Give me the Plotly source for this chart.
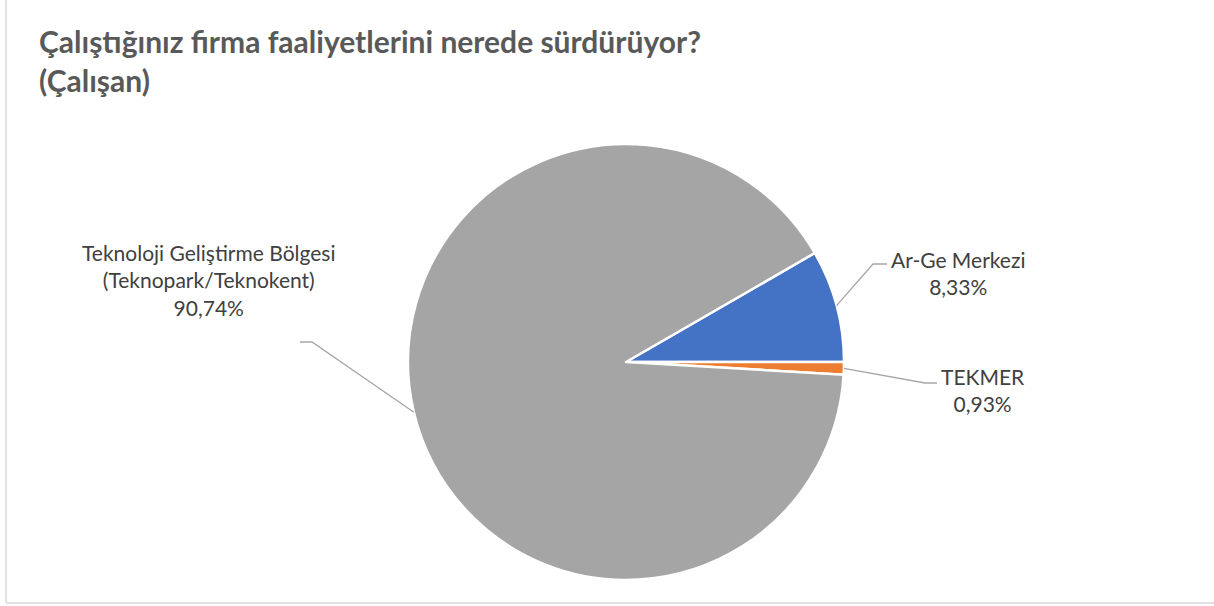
import math
import plotly.graph_objects as go

W, H = 1214, 606

# Data
categories = ["Ar-Ge Merkezi", "TEKMER", "Teknoloji Geliştirme Bölgesi<br>(Teknopark/Teknokent)"]
values = [8.33, 0.93, 90.74]
value_labels = ["8,33%", "0,93%", "90,74%"]
colors = ["#4472C4", "#ED7D31", "#A5A5A5"]
title_lines = ["Çalıştığınız firma faaliyetlerini nerede sürdürüyor?", "(Çalışan)"]

# Layout geometry (pixels)
cx, cy, r = 626, 362, 218
rotation = 60

def px(x):
    return x / W

def py(y):
    return 1 - y / H

fig = go.Figure()
fig.add_trace(go.Pie(
    labels=categories,
    values=values,
    marker=dict(colors=colors, line=dict(color="white", width=2.5)),
    sort=False,
    direction="clockwise",
    rotation=rotation,
    textinfo="none",
    showlegend=False,
    domain=dict(x=[px(cx - r), px(cx + r)], y=[py(cy + r), py(cy - r)]),
))

# Mid-angle points of each slice on the rim (computed from values)
total = sum(values)
mids = []
acc = 0.0
for v in values:
    a = rotation + (acc + v / 2) / total * 360
    acc += v
    rad = math.radians(a)
    mids.append((cx + r * math.sin(rad), cy - r * math.cos(rad)))

# Leader line elbows and label positions (pixels)
elbows = [
    [(873, 264), (887, 264)],
    [(925, 383), (937, 383)],
    [(312, 342), (300, 342)],
]
label_pos = [(958, 273), (983, 390), (209, 280)]

line_color = "#A6A6A6"
shapes = []
for (sx, sy), pts in zip(mids, elbows):
    path_pts = [(sx, sy)] + pts
    d = "M " + " L ".join(f"{px(x):.5f},{py(y):.5f}" for x, y in path_pts)
    shapes.append(dict(type="path", xref="paper", yref="paper", path=d,
                       line=dict(color=line_color, width=1.3)))

# chart area border (left and bottom visible)
shapes.append(dict(type="line", xref="paper", yref="paper",
                   x0=px(6), x1=px(6), y0=py(0), y1=py(603),
                   line=dict(color="#D9D9D9", width=1.5)))
shapes.append(dict(type="line", xref="paper", yref="paper",
                   x0=px(6), x1=1, y0=py(603), y1=py(603),
                   line=dict(color="#D9D9D9", width=1.5)))

annotations = []
for (lx, ly), cat, vl in zip(label_pos, categories, value_labels):
    annotations.append(dict(
        x=px(lx), y=py(ly), xref="paper", yref="paper",
        text=f"{cat}<br>{vl}", showarrow=False, align="center",
        xanchor="center", yanchor="middle",
        font=dict(family="Lato, Carlito, sans-serif", size=21, color="#404040"),
    ))

annotations.append(dict(
    x=px(37), y=py(21), xref="paper", yref="paper",
    text="<b>" + "<br>".join(title_lines) + "</b>",
    showarrow=False, align="left", xanchor="left", yanchor="top",
    font=dict(family="Lato, Carlito, sans-serif", size=30, color="#595959"),
))

fig.update_layout(
    width=W, height=H,
    margin=dict(l=0, r=0, t=0, b=0),
    paper_bgcolor="white", plot_bgcolor="white",
    shapes=shapes, annotations=annotations,
)

fig.write_html(
    "out.html",
    config={"displayModeBar": False},
    post_script="document.body.style.margin='0';document.body.style.overflow='hidden';",
)
